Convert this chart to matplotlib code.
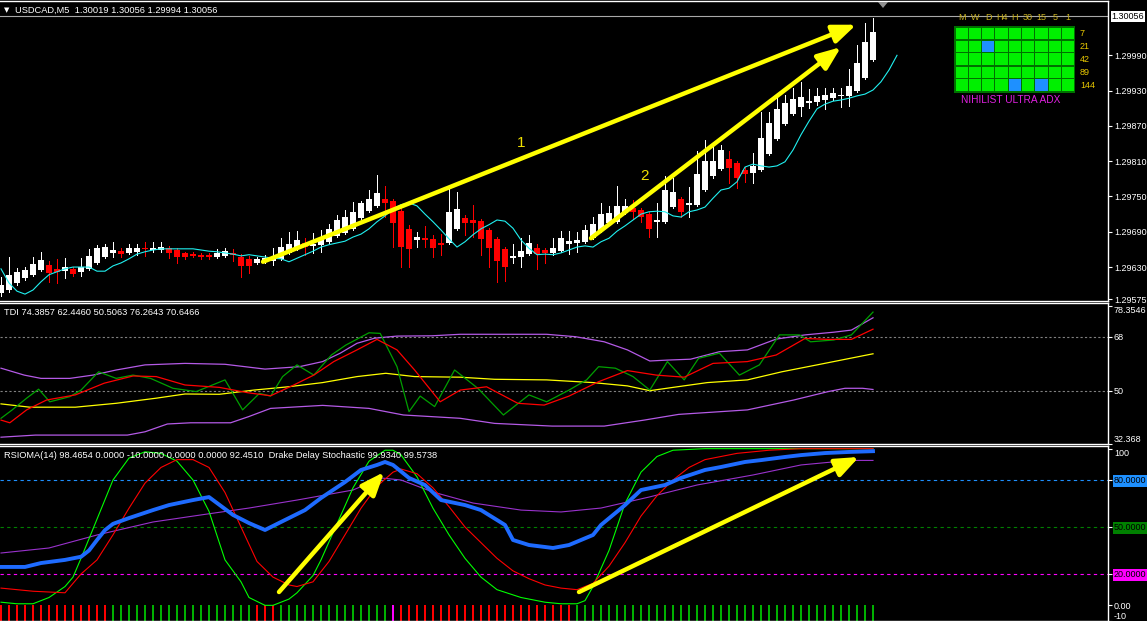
import matplotlib.pyplot as plt
from matplotlib.patches import Rectangle, Polygon
import numpy as np

# ---- USDCAD M5 candles ----
opens = [1.29586,1.29591,1.29603,1.29611,1.29617,1.29625,1.29634,1.29627,1.29623,1.29627,
         1.29622,1.29627,1.29637,1.29647,1.29654,1.29657,1.29654,1.29656,1.29662,1.29659,
         1.29659,1.29662,1.29659,1.29654,1.29652,1.29651,1.29651,1.29647,1.29649,1.29654,
         1.29647,1.29644,1.29637,1.29640,1.29640,1.29644,1.29654,1.29661,1.29671,1.29666,
         1.29668,1.29673,1.29683,1.29688,1.29695,1.29713,1.29725,1.29734,1.29746,1.29742,
         1.29725,1.29695,1.29676,1.29679,1.29678,1.29671,1.29671,1.29695,1.29713,1.29710,
         1.29708,1.29693,1.29678,1.29661,1.29645,1.29647,1.29652,1.29662,1.29659,1.29654,
         1.29657,1.29669,1.29671,1.29673,1.29679,1.29691,1.29705,1.29707,1.29722,1.29730,
         1.29727,1.29720,1.29707,1.29707,1.29732,1.29746,1.29736,1.29736,1.29761,1.29785,
         1.29797,1.29814,1.29807,1.29795,1.29790,1.29795,1.29822,1.29848,1.29873,1.29890,
         1.29902,1.29909,1.29911,1.29914,1.29917,1.29921,1.29921,1.29929,1.29951,1.29982]
highs = [1.29613,1.29647,1.29628,1.29630,1.29647,1.29656,1.29640,1.29644,1.29645,1.29630,
         1.29645,1.29661,1.29668,1.29669,1.29673,1.29662,1.29669,1.29669,1.29673,1.29673,
         1.29673,1.29666,1.29662,1.29656,1.29656,1.29654,1.29654,1.29661,1.29662,1.29661,
         1.29652,1.29649,1.29647,1.29651,1.29662,1.29679,1.29690,1.29691,1.29679,1.29688,
         1.29693,1.29703,1.29719,1.29727,1.29741,1.29742,1.29761,1.29787,1.29768,1.29746,
         1.29730,1.29702,1.29690,1.29700,1.29685,1.29686,1.29766,1.29758,1.29719,1.29736,
         1.29712,1.29696,1.29681,1.29664,1.29669,1.29679,1.29685,1.29669,1.29662,1.29679,
         1.29691,1.29691,1.29690,1.29702,1.29715,1.29739,1.29734,1.29768,1.29746,1.29744,
         1.29730,1.29724,1.29739,1.29785,1.29781,1.29749,1.29766,1.29827,1.29846,1.29838,
         1.29838,1.29827,1.29810,1.29800,1.29824,1.29894,1.29894,1.29919,1.29923,1.29934,
         1.29945,1.29933,1.29934,1.29934,1.29934,1.29934,1.29967,1.30008,1.30045,1.30053]
lows = [1.29581,1.29588,1.29600,1.29608,1.29615,1.29623,1.29605,1.29603,1.29611,1.29615,
        1.29615,1.29625,1.29635,1.29645,1.29647,1.29647,1.29652,1.29651,1.29649,1.29656,
        1.29656,1.29645,1.29637,1.29644,1.29647,1.29644,1.29644,1.29645,1.29647,1.29640,
        1.29613,1.29620,1.29635,1.29637,1.29634,1.29642,1.29652,1.29659,1.29651,1.29654,
        1.29656,1.29671,1.29681,1.29686,1.29693,1.29712,1.29724,1.29732,1.29715,1.29664,
        1.29630,1.29630,1.29664,1.29664,1.29647,1.29651,1.29669,1.29693,1.29685,1.29681,
        1.29651,1.29630,1.29605,1.29606,1.29637,1.29630,1.29651,1.29627,1.29637,1.29651,
        1.29656,1.29652,1.29656,1.29671,1.29678,1.29690,1.29702,1.29705,1.29720,1.29712,
        1.29707,1.29681,1.29681,1.29705,1.29730,1.29715,1.29715,1.29734,1.29759,1.29781,
        1.29795,1.29773,1.29764,1.29775,1.29773,1.29793,1.29821,1.29846,1.29872,1.29889,
        1.29887,1.29900,1.29906,1.29899,1.29914,1.29902,1.29904,1.29928,1.29950,1.29980]
closes = [1.29600,1.29617,1.29622,1.29625,1.29635,1.29642,1.29620,1.29622,1.29630,1.29618,
          1.29630,1.29649,1.29662,1.29664,1.29659,1.29652,1.29662,1.29662,1.29661,1.29662,
          1.29664,1.29654,1.29647,1.29647,1.29649,1.29647,1.29647,1.29654,1.29657,1.29651,
          1.29632,1.29632,1.29644,1.29645,1.29647,1.29664,1.29669,1.29676,1.29664,1.29669,
          1.29679,1.29695,1.29710,1.29715,1.29724,1.29739,1.29746,1.29756,1.29739,1.29705,
          1.29664,1.29661,1.29681,1.29676,1.29662,1.29668,1.29724,1.29729,1.29705,1.29705,
          1.29678,1.29662,1.29640,1.29630,1.29649,1.29657,1.29671,1.29652,1.29654,1.29662,
          1.29679,1.29674,1.29676,1.29693,1.29703,1.29720,1.29722,1.29734,1.29734,1.29724,
          1.29715,1.29695,1.29710,1.29761,1.29758,1.29724,1.29739,1.29788,1.29810,1.29810,
          1.29829,1.29798,1.29781,1.29788,1.29802,1.29849,1.29875,1.29899,1.29909,1.29916,
          1.29919,1.29912,1.29921,1.29923,1.29926,1.29923,1.29938,1.29977,1.30013,1.30030]

# shifted moving average (cyan), runs 3 bars past the last candle
ma_cyan = [1.29627,1.29603,1.29589,1.29584,1.29591,1.29605,1.29617,1.29622,1.29627,1.29630,
           1.29630,1.29630,1.29623,1.29623,1.29632,1.29637,1.29644,1.29652,1.29656,1.29659,
           1.29661,1.29661,1.29661,1.29661,1.29661,1.29659,1.29657,1.29656,1.29654,1.29652,
           1.29649,1.29651,1.29649,1.29647,1.29645,1.29644,1.29639,1.29645,1.29651,1.29657,
           1.29664,1.29668,1.29671,1.29674,1.29681,1.29686,1.29695,1.29707,1.29717,1.29729,
           1.29736,1.29739,1.29734,1.29720,1.29707,1.29693,1.29678,1.29664,1.29673,1.29685,
           1.29695,1.29702,1.29710,1.29708,1.29696,1.29676,1.29662,1.29651,1.29652,1.29651,
           1.29654,1.29659,1.29664,1.29666,1.29664,1.29673,1.29679,1.29691,1.29700,1.29710,
           1.29720,1.29724,1.29725,1.29724,1.29717,1.29715,1.29724,1.29727,1.29732,1.29747,
           1.29761,1.29764,1.29775,1.29800,1.29805,1.29802,1.29800,1.29802,1.29809,1.29829,
           1.29855,1.29878,1.29899,1.29907,1.29912,1.29914,1.29917,1.29921,1.29924,1.29931,
           1.29945,1.29965,1.29990]

price_ticks = [1.29575, 1.29630, 1.29690, 1.29750, 1.29810, 1.29870, 1.29930, 1.29990]
last_price = 1.30056

# ---- TDI (bar index, value) ----
tdi_up_i = [0,2.9,5,8.6,11.5,14.4,18,23,28,33,37.3,40.2,42.4,44.5,46.7,49.5,53.9,57.4,68.2,71.8,
            75.4,78.3,81.1,83.3,86.2,89.8,93.3,96.9,100.5,104.1,106.3,109]
tdi_up_v = [57.6,55.3,54.2,54.2,55.3,57.0,58.7,59.2,58.9,57.3,58.1,59.8,62.6,65.9,67.6,68.3,68.4,68.9,68.9,68.1,
            66.4,63.7,60.0,60.3,60.6,63.1,63.7,67.3,68.7,69.6,70.3,74.4]
tdi_mid_i = [0,3.6,9.3,14.4,19.4,23,27.3,31.6,35.9,40.2,44.5,48.1,51.7,57.4,61.7,68.2,74,78.3,81.1,84,
             88.3,93.3,97.6,102,109]
tdi_mid_v = [45.7,44.6,44.6,45.9,47.6,49.0,48.9,50.3,51.4,52.8,54.8,55.9,54.8,54.6,53.9,53.7,52.8,51.7,50.1,51.2,
             52.8,53.7,56.4,58.7,62.4]
tdi_lo_i = [0,4.3,15.8,18,20.8,23.7,28.7,30.9,33.7,40.2,46,50.3,57.4,61.7,68.9,75.4,80.4,84.7,93.3,99.1,
            103.4,105.5,107.7,109]
tdi_lo_v = [34.6,35.3,35.3,36.4,39.0,39.4,39.4,41.4,44.2,45.2,44.2,42.0,40.9,39.2,38.3,38.3,40.3,42.2,43.7,47.0,
            49.8,50.9,50.9,50.5]
tdi_green_i = [0,1.4,3.2,4.7,6.1,8.6,10,12.2,14.4,16.5,18.7,21.5,24.4,28,30.2,32.3,33.7,35.2,37,39.1,
               41.3,43.1,46,47.4,49.5,51,52.4,54.2,56.7,59.6,62.8,66,68.2,71,73.2,74.7,76.8,79,81.1,83.3,
               85.4,87.2,89.8,92.3,94.8,97.3,99.8,101.2,104.1,106.3,109]
tdi_green_v = [40.9,43.7,47.6,50.6,46.4,48.1,50.3,56.4,54.2,55.3,54.2,50.9,49.8,53.7,43.7,49.2,48.3,54.8,58.7,55.3,
               62.0,65.3,69.4,69.2,58.1,43.1,48.3,44.8,57.0,50.9,42.0,48.7,46.4,50.3,53.7,58.1,57.6,54.8,50.3,59.8,
               53.7,60.9,62.6,55.3,58.7,68.7,68.7,66.4,67.0,68.7,76.3]
tdi_red_i = [0,1.1,3.2,5.7,9.3,12.9,16.5,19.4,23,27.3,30.9,33.7,36.6,39.1,41.6,44.5,47,49.5,51.7,54.9,
             57.4,60.7,64.6,67.9,71,74.7,78.3,81.9,85.4,89,93.3,96.9,100.5,103.4,106.3,109]
tdi_red_v = [40.3,39.4,43.7,47.0,48.7,52.6,55.0,54.8,52.0,51.2,49.4,48.4,52.0,55.3,59.8,63.7,67.2,63.7,57.0,46.4,
             50.3,51.4,45.9,45.3,48.3,53.1,56.8,55.3,54.6,59.2,59.8,62.0,67.5,67.2,67.2,70.6]

# ---- RSIOMA + Drake Delay Stochastic ----
rs_blue_i = [0,3,5,8,10,11,12,13,14,16,19,21,24,26,29,31,33,35,38,40,43,45,47,48,49,51,53,55,58,60,
             63,64,66,69,71,74,75,78,80,83,85,88,90,93,95,98,100,103,106,109]
rs_blue_v = [24.5,24.5,27,29,31,35,41.7,48,52,55.7,60.8,64,67.2,69.1,57.7,52.5,48.1,53.2,60.8,68.5,
             78.7,86.4,89.6,91.5,89.6,81.3,76.8,67.2,64.0,60.8,51.3,41.7,38.5,36.6,38.5,44.9,51.3,64.0,73.6,76.8,
             81.3,86.4,88.3,91.5,92.7,94.7,95.9,97.2,97.9,98.4]
rs_pur_i = [0,6,12,19,25,31,37,44,47.5,50,54,59,65,70,75,81,87,94,100,106,109]
rs_pur_v = [33.4,36.6,44.9,53.2,57.7,62.1,67.2,73.6,81.3,80.0,72.3,65.3,60.8,59.6,62.1,69.1,76.8,83.2,89.6,92.5,92.5]
rs_grn_i = [0,2,4,6,8,9,10,12,14,16,18,20,22,24,26,28,30,31,33,34,36,37,39,40,42,44,46,48,49,50,
            52,54,56,58,60,62,65,68,70,72,73,74,76,78,80,82,84,88,109]
rs_grn_v = [2,1,1,5,12,18,30,55,80,94,98,97,92,80,60,29,15,5,0,0,4,8,19,29,52,75,92,99,99,96,
            82,62,45,30,18,10,5,2,1,1,3,12,35,65,85,95,99,100,100]
rs_red_i = [0,4,8,10,12,14,16,18,20,22,24,26,28,30,32,34,36,37,39,41,43,45,47,49,50,52,54,56,58,60,
            62,64,66,68,70,72,74,76,78,80,82,84,86,88,92,96,100,109]
rs_red_v = [11,9,8,20,29,45,62,78,88,93,93,88,72,50,28,18,13,12,15,28,45,62,76,85,87,84,75,63,50,40,
            30,22,17,13,11,10,14,25,40,57,70,80,88,93,97,99,100,100]
# histogram colour runs along the bottom (state, number of bars)
hist_runs = [('r', 14), ('g', 18), ('r', 3), ('g', 14), ('m', 1), ('r', 22), ('g', 38)]

# NIHILIST ULTRA ADX grid
adx_tf = ['M', 'W', 'D', 'H4', 'H', '30', '15', '5', '1']
adx_periods = ['7', '21', '42', '89', '144']
adx_blue = [(1, 2), (4, 4), (4, 6)]  # (row, col) cells that are blue

plt.rcParams['font.family'] = ['Liberation Sans', 'DejaVu Sans']

W, H = 1147, 621
fig = plt.figure(figsize=(W / 100, H / 100), dpi=100, facecolor='black')


def fx(x):
    return x / W


def fy(y):
    return 1 - y / H


RIGHT = 1108
ax1 = fig.add_axes([0, fy(301), fx(RIGHT), fy(1) - fy(301)])
ax2 = fig.add_axes([0, fy(444), fx(RIGHT), fy(303) - fy(444)])
ax3 = fig.add_axes([0, 0, fx(RIGHT), fy(446)])

FS = 6.5
for ax in (ax1, ax2, ax3):
    ax.set_facecolor('black')
    ax.set_xlim(-0.125, 138.375)
    ax.set_xticks([])
    ax.yaxis.tick_right()
    ax.tick_params(axis='y', colors='white', labelsize=FS, length=3, width=0.8, pad=1.2)
    for s in ('top', 'right', 'bottom'):
        ax.spines[s].set_color('white')
        ax.spines[s].set_linewidth(1)
    ax.spines['left'].set_visible(False)

# ---- main chart ----
o, h, l, c = (np.array(v) for v in (opens, highs, lows, closes))
idx = np.arange(len(o))
cols = np.where(c >= o, 'white', '#ff0000')
ax1.vlines(idx, l, h, colors=cols, lw=0.5, antialiased=False)
body_lo = np.minimum(o, c)
body_h = np.maximum(np.abs(c - o), 0.000018)
ax1.bar(idx, body_h, bottom=body_lo, width=0.68, color=cols, linewidth=0, antialiased=False)
ax1.plot(np.arange(len(ma_cyan)), ma_cyan, color='#20f0f0', lw=0.8)
ax1.axhline(last_price, color='#a8a8a8', lw=0.8)
ax1.set_ylim(1.295723, 1.300823)
ax1.set_yticks(price_ticks)
ax1.set_yticklabels(['%.5f' % t for t in price_ticks])
ax1.annotate('%.5f' % last_price, xy=(1, last_price), xycoords=('axes fraction', 'data'),
             xytext=(2.6, 0), textcoords='offset points', va='center', ha='left',
             fontsize=FS, color='black',
             bbox=dict(facecolor='white', edgecolor='none', pad=0.8))

yellow_arrow = dict(arrowstyle='-|>,head_length=0.7,head_width=0.28', color='#ffff00',
                    lw=3.2, shrinkA=0, shrinkB=0, mutation_scale=20)
ax1.annotate('', xy=(106.9, 1.30042), xytext=(32.75, 1.29639), arrowprops=yellow_arrow)
ax1.annotate('', xy=(105.0, 1.30004), xytext=(73.75, 1.29679), arrowprops=yellow_arrow)
ax1.text(65.0, 1.29841, '1', color='#f0e000', fontsize=11, ha='center', va='center')
ax1.text(80.4, 1.29785, '2', color='#f0e000', fontsize=11, ha='center', va='center')

# chart shift marker
fig.add_artist(Polygon([(fx(878), fy(2)), (fx(888), fy(2)), (fx(883), fy(8))],
                       closed=True, facecolor='#909090', edgecolor='none',
                       transform=fig.transFigure))
fig.text(fx(4), fy(10), '\u25bc', color='white', fontsize=5, va='center', family='DejaVu Sans')
fig.text(fx(15), fy(10), 'USDCAD,M5  1.30019 1.30056 1.29994 1.30056',
         color='white', fontsize=FS + 0.2, va='center')

# ADX grid
gx0, gy0, step_x, step_y, cw, chh = 955.5, 27.5, 13.3, 13.0, 12.3, 11.7
fig.add_artist(Rectangle((fx(gx0 - 1), fy(gy0 + 5 * step_y)), fx(9 * step_x + 1), fy(0) - fy(5 * step_y + 1),
                         facecolor='#007000', edgecolor='none', transform=fig.transFigure))
for r in range(5):
    for k in range(9):
        colr = '#1e90ff' if (r, k) in adx_blue else '#00f000'
        x0 = gx0 + k * step_x
        y0 = gy0 + r * step_y
        fig.add_artist(Rectangle((fx(x0), fy(y0 + chh)), fx(cw), fy(0) - fy(chh),
                                 facecolor=colr, edgecolor='none', transform=fig.transFigure))
for k, t in enumerate(adx_tf):
    fig.text(fx(gx0 + k * step_x + cw / 2), fy(17), t, color='#c8b020', fontsize=FS,
             ha='center', va='center')
for r, t in enumerate(adx_periods):
    fig.text(fx(1080), fy(gy0 + r * step_y + chh / 2), t, color='#e8c800', fontsize=FS,
             ha='left', va='center')
fig.text(fx(961), fy(100), 'NIHILIST ULTRA ADX', color='#e020e0', fontsize=FS + 0.8,
         ha='left', va='center')

# ---- TDI ----
ax2.set_ylim(32.33, 79.33)
for lv in (68, 50):
    ax2.axhline(lv, color='#808080', lw=0.8, ls=(0, (2, 2)))
ax2.plot(tdi_up_i, tdi_up_v, color='#b45ae6', lw=0.9)
ax2.plot(tdi_lo_i, tdi_lo_v, color='#b45ae6', lw=0.9)
ax2.plot(tdi_mid_i, tdi_mid_v, color='#ffff00', lw=0.9)
ax2.plot(tdi_green_i, tdi_green_v, color='#00a000', lw=0.9)
ax2.plot(tdi_red_i, tdi_red_v, color='#ff0000', lw=0.9)
ax2.set_yticks([78.3546, 68, 50, 32.368])
ax2.set_yticklabels(['78.3546', '68', '50', '32.368'])
tl = ax2.get_yticklabels()
tl[0].set_va('top')
tl[-1].set_va('bottom')
ax2.text(0.004, 0.93, 'TDI 74.3857 62.4460 50.5063 76.2643 70.6466', transform=ax2.transAxes,
         color='white', fontsize=FS + 0.2, va='center')

# ---- RSIOMA ----
ax3.set_ylim(-10, 101.7)
ax3.axhline(80, color='#1e90ff', lw=0.8, ls=(0, (3, 3)))
ax3.axhline(50, color='#008000', lw=0.8, ls=(0, (3, 3)))
ax3.axhline(20, color='#ff00ff', lw=0.8, ls=(0, (3, 3)))
hist_col = {'r': '#ff0000', 'g': '#00b000', 'm': '#ff00ff'}
hc = [hist_col[s] for s, n in hist_runs for _ in range(n)]
ax3.bar(np.arange(len(hc)), 10, bottom=-10, width=0.15, color=hc, linewidth=0, antialiased=False)
ax3.plot(rs_pur_i, rs_pur_v, color='#9932cc', lw=0.8)
ax3.plot(rs_grn_i, rs_grn_v, color='#00ff00', lw=0.8)
ax3.plot(rs_red_i, rs_red_v, color='#ff0000', lw=0.8)
ax3.plot(rs_blue_i, rs_blue_v, color='#1e6bff', lw=2.8)
ax3.annotate('', xy=(47.9, 85.1), xytext=(34.75, 8.5), arrowprops=yellow_arrow)
ax3.annotate('', xy=(107.25, 94.7), xytext=(72.25, 8.5), arrowprops=yellow_arrow)
ax3.set_yticks([100, 80, 50, 20, 0, -10])
ax3.set_yticklabels(['100', '80.0000', '50.0000', '20.0000', '0.00', '-10'])
tl = ax3.get_yticklabels()
tl[0].set_va('top')
tl[-1].set_va('bottom')
for lab, bg in zip(tl[1:4], ('#1e90ff', '#008000', '#ff00ff')):
    lab.set_color('black')
    lab.set_bbox(dict(facecolor=bg, edgecolor='none', pad=0.8))
ax3.text(0.004, 0.947, 'RSIOMA(14) 98.4654 0.0000 -10.0000 0.0000 0.0000 92.4510  '
         'Drake Delay Stochastic 99.9340 99.5738', transform=ax3.transAxes,
         color='white', fontsize=FS + 0.2, va='center')

fig.savefig('out.png', dpi=100, facecolor='black')
